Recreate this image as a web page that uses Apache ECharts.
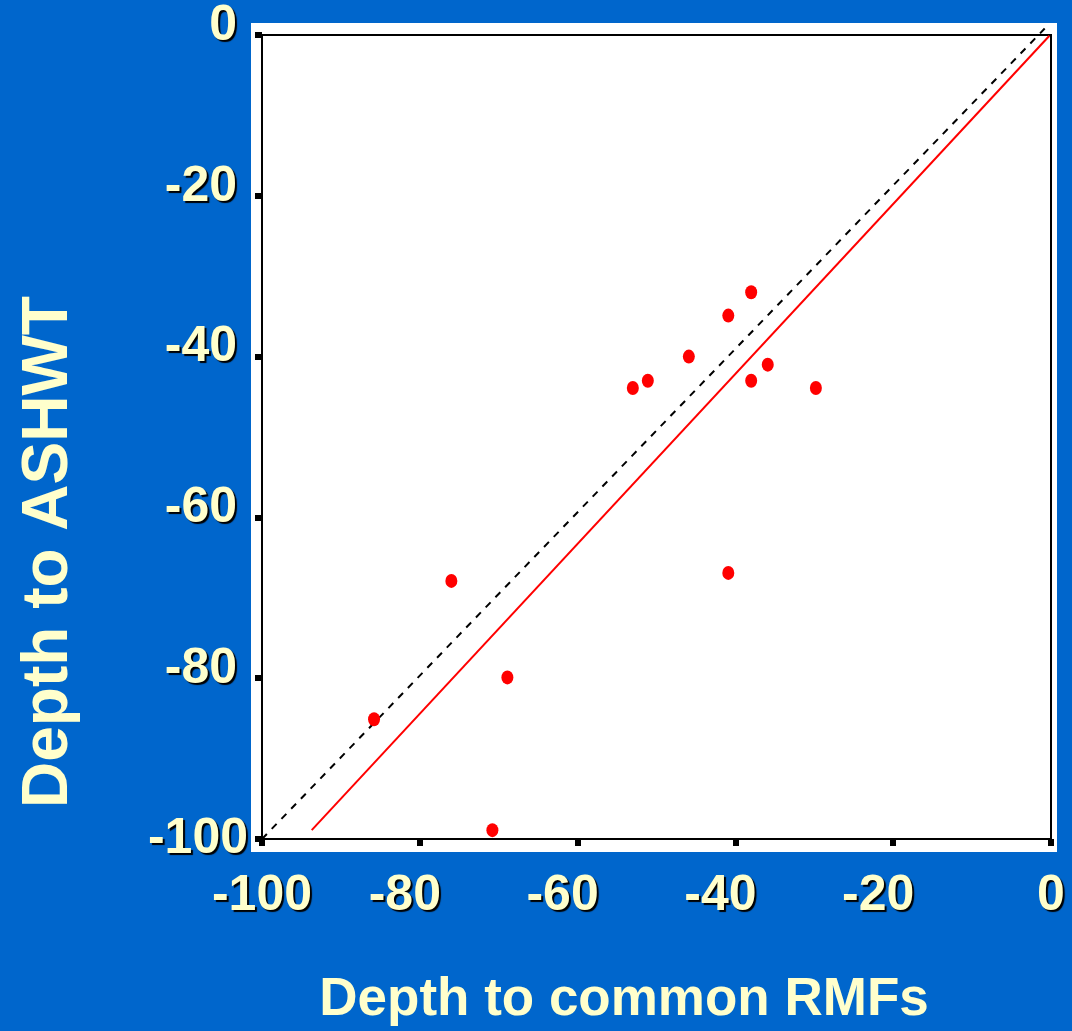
<!DOCTYPE html>
<html>
<head>
<meta charset="utf-8">
<script src="https://cdn.jsdelivr.net/npm/echarts@6/dist/echarts.min.js"></script>
<style>
html,body{margin:0;padding:0;background:#0066cc;}
#chart{width:1072px;height:1031px;}
</style>
</head>
<body>
<div id="chart"></div>
<script>
// Data
var pointX = [-38.0, -40.9, -45.9, -53.0, -51.1, -38.0, -35.9, -29.8, -40.9, -76.0, -68.9, -85.8, -70.8];
var pointY = [-32.0, -34.9, -40.0, -43.9, -43.0, -43.0, -41.0, -43.9, -66.9, -67.9, -79.9, -85.1, -98.9];
var fitX = [-93.7, -0.2];
var fitY = [-98.9, -0.1];
var refX = [-100, -0.8];
var refY = [-100, 0.8];
var xTitle = 'Depth to common RMFs';
var yTitle = 'Depth to ASHWT';
var axisMin = -100, axisMax = 0, axisStep = 20;

var textColor = '#ffffcc';
var fontFam = 'Liberation Sans, Arial, sans-serif';
var shadow = {textShadowColor:'#000000', textShadowOffsetX:2, textShadowOffsetY:2, textShadowBlur:1};
function pairs(xs, ys){ return xs.map(function(x,i){ return [x, ys[i]]; }); }
function txt(extra){ return Object.assign({color:textColor, fontFamily:fontFam, fontWeight:'bold', fontSize:50}, shadow, extra||{}); }

var chart = echarts.init(document.getElementById('chart'), null, {renderer:'canvas'});

chart.setOption({
  backgroundColor:'#0066cc',
  animation:false,
  graphic:[
    {type:'rect', left:251, top:23, shape:{width:806, height:829}, style:{fill:'#ffffff'}, z:-10, silent:true},
    {type:'text', x:624, y:1000, z:10, silent:true,
     style:{text:xTitle, fill:textColor, font:'bold 53px ' + fontFam, align:'center', verticalAlign:'middle',
            shadowColor:'#000', shadowOffsetX:2, shadowOffsetY:2, shadowBlur:1}},
    {type:'text', x:49, y:552, rotation:Math.PI/2, z:10, silent:true,
     style:{text:yTitle, fill:textColor, font:'bold 64px ' + fontFam, align:'center', verticalAlign:'middle',
            shadowColor:'#000', shadowOffsetX:2, shadowOffsetY:2, shadowBlur:1}}
  ],
  grid:{left:262, top:35, width:789, height:804, show:true, borderColor:'#000', borderWidth:2, backgroundColor:'transparent'},
  xAxis:{
    type:'value', min:axisMin, max:axisMax, interval:axisStep,
    axisLine:{show:true, onZero:false, lineStyle:{color:'#000', width:2}},
    axisTick:{show:true, length:7, lineStyle:{color:'#000', width:6}},
    axisLabel:{margin:32,
      formatter:function(v){ return (v === axisMin || v === axisMax) ? '{e|' + v + '}' : '{m|' + v + '}'; },
      rich:{e:txt(), m:txt({padding:[0,30,0,0]})}},
    splitLine:{show:false}
  },
  yAxis:{
    type:'value', min:axisMin, max:axisMax, interval:axisStep,
    axisLine:{show:true, onZero:false, lineStyle:{color:'#000', width:2}},
    axisTick:{show:true, length:7, lineStyle:{color:'#000', width:6}},
    axisLabel:{margin:14,
      formatter:function(v){ return v === axisMin ? '{e|' + v + '}' : '{m|' + v + '}'; },
      rich:{e:txt(), m:txt({padding:[0,11,18,0]})}},
    splitLine:{show:false}
  },
  series:[
    {type:'line', data:pairs(refX, refY), showSymbol:false, symbol:'none', clip:false,
     lineStyle:{color:'#000', width:2, type:[7,7]}, z:2},
    {type:'line', data:pairs(fitX, fitY), showSymbol:false, symbol:'none', clip:false,
     lineStyle:{color:'#ff0000', width:2}, z:3},
    {type:'scatter', data:pairs(pointX, pointY), symbol:'circle', symbolSize:[12,14],
     itemStyle:{color:'#ff0000', opacity:1}, z:4}
  ]
});
</script>
</body>
</html>
